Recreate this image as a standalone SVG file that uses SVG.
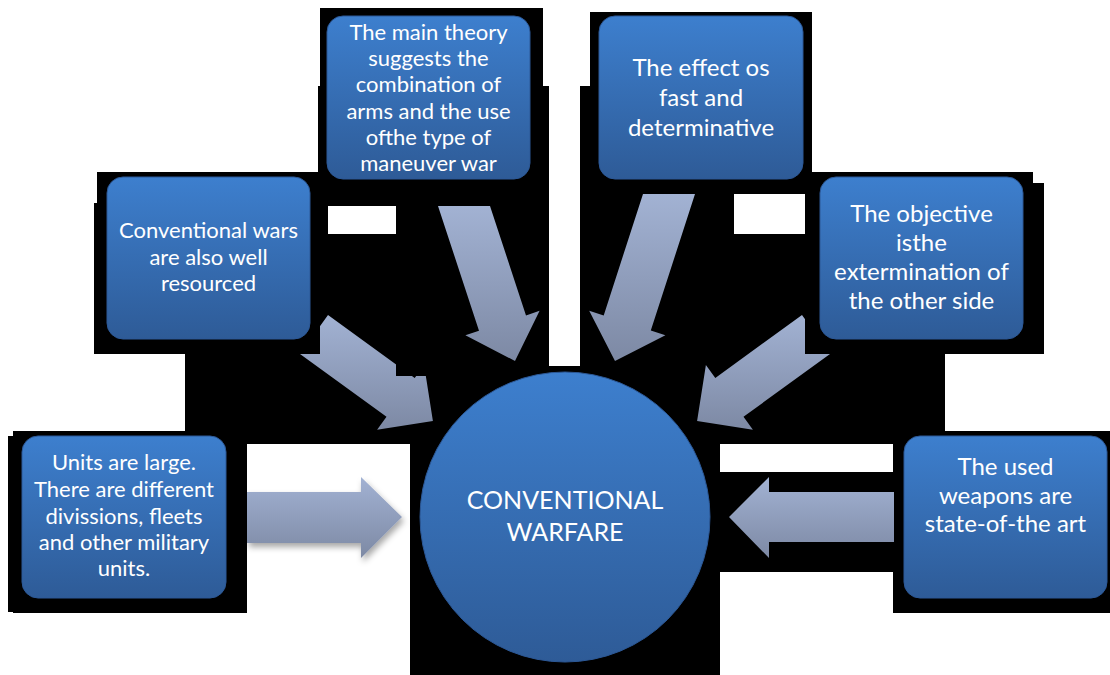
<svg xmlns="http://www.w3.org/2000/svg" width="1110" height="675" viewBox="0 0 1110 675">
<defs>
<linearGradient id="boxg" x1="0" y1="0" x2="0" y2="1">
<stop offset="0" stop-color="#3d7fce"/>
<stop offset="1" stop-color="#2e5b97"/>
</linearGradient>
<linearGradient id="arrg" x1="0" y1="0" x2="0" y2="1">
<stop offset="0" stop-color="#a2b2d3"/>
<stop offset="1" stop-color="#7d89a4"/>
</linearGradient>
<filter id="sh" x="-20%" y="-20%" width="150%" height="160%">
<feDropShadow dx="2" dy="4" stdDeviation="3" flood-color="#000" flood-opacity="0.35"/>
</filter>
<style>
.bg{fill:#000}
.box{fill:url(#boxg);stroke:#2c5896;stroke-width:1}
.arr{fill:url(#arrg)}
.t{font-family:Lato,"Open Sans","Liberation Sans",sans-serif;fill:#fff;text-anchor:middle}
</style>
</defs>
<rect width="1110" height="675" fill="#fff"/>
<g id="backdrop">
<rect class="bg" x="320" y="8" width="223" height="78"/>
<rect class="bg" x="590" y="12" width="222" height="74"/>
<rect class="bg" x="318" y="86" width="231" height="280"/>
<rect class="bg" x="580" y="86" width="232" height="108"/>
<rect class="bg" x="580" y="194" width="154" height="172"/>
<rect class="bg" x="734" y="234" width="71" height="120"/>
<rect class="bg" x="805" y="172" width="228" height="11"/>
<rect class="bg" x="805" y="183" width="239" height="171"/>
<rect class="bg" x="97" y="172" width="223" height="31"/>
<rect class="bg" x="94" y="203" width="226" height="151"/>
<rect class="bg" x="185" y="354" width="364" height="90"/>
<rect class="bg" x="580" y="354" width="365" height="90"/>
<rect class="bg" x="13" y="431" width="234" height="182"/>
<rect class="bg" x="8" y="436" width="6" height="176"/>
<rect class="bg" x="410" y="366" width="310" height="309"/>
<rect class="bg" x="893" y="431" width="217" height="182"/>
<rect class="bg" x="720" y="472" width="173" height="100"/>
<rect x="328" y="206" width="68" height="28" fill="#fff"/>
</g>
<g id="connectors">
<polygon class="arr" points="438,206 490,206 526,315.4 539.6,310.8 515,361 465.4,335.2 479,330.7"/>
<polygon class="arr" points="643,194 695,194 650.8,330.6 665.4,335.3 615,361 589.2,310.7 603.7,315.4"/>
<polygon class="arr" points="328,315 414.7,378 424.1,365 432.9,420.9 377.1,429.8 386.5,416.8 300,354"/>
<polygon class="arr" points="802,315 715.3,378 705.9,365 697.1,420.9 752.9,429.8 743.5,416.8 830,354"/>
<polygon class="arr" filter="url(#sh)" points="247,492 361,492 361,477 402,517 361,558 361,543 247,543"/>
<polygon class="arr" points="894,492 769,492 769,477 729,517 769,558 769,542 894,542"/>
<rect class="bg" x="94" y="300" width="226" height="54"/>
<rect class="bg" x="396" y="350" width="32" height="26"/>
<rect class="bg" x="805" y="300" width="239" height="54"/>
</g>
<g id="node-theory">
<rect class="box" x="327" y="16" width="203" height="163" rx="16"/>
<text class="t" font-size="22"><tspan x="428.5" y="39.5">The main theory</tspan><tspan x="428.5" y="65.8">suggests the</tspan><tspan x="428.5" y="92">combination of</tspan><tspan x="428.5" y="118.5">arms and the use</tspan><tspan x="428.5" y="144.5">ofthe type of</tspan><tspan x="428.5" y="170.5">maneuver war</tspan></text>
</g>
<g id="node-effect">
<rect class="box" x="599" y="16" width="204" height="163" rx="16"/>
<text class="t" font-size="24"><tspan x="701" y="76">The effect os</tspan><tspan x="701" y="106">fast and</tspan><tspan x="701" y="136">determinative</tspan></text>
</g>
<g id="node-resourced">
<rect class="box" x="107" y="177" width="203" height="162" rx="16"/>
<text class="t" font-size="22"><tspan x="208.5" y="238">Conventional wars</tspan><tspan x="208.5" y="264.5">are also well</tspan><tspan x="208.5" y="291">resourced</tspan></text>
</g>
<g id="node-objective">
<rect class="box" x="820" y="177" width="203" height="162" rx="16"/>
<text class="t" font-size="24"><tspan x="921.5" y="222">The objective</tspan><tspan x="921.5" y="251">isthe</tspan><tspan x="921.5" y="280">extermination of</tspan><tspan x="921.5" y="309">the other side</tspan></text>
</g>
<g id="node-units">
<rect class="box" x="22" y="436" width="204" height="162" rx="16"/>
<text class="t" font-size="22"><tspan x="124" y="470">Units are large.</tspan><tspan x="124" y="497">There are different</tspan><tspan x="124" y="524">divissions, fleets</tspan><tspan x="124" y="550">and other military</tspan><tspan x="124" y="576">units.</tspan></text>
</g>
<g id="node-weapons">
<rect class="box" x="904" y="436" width="203" height="162" rx="16"/>
<text class="t" font-size="24"><tspan x="1005.5" y="475">The used</tspan><tspan x="1005.5" y="504">weapons are</tspan><tspan x="1005.5" y="532">state-of-the art</tspan></text>
</g>
<g id="node-center">
<circle cx="565" cy="517" r="145" fill="url(#boxg)" stroke="#2c5896" stroke-width="1"/>
<text class="t" font-size="25"><tspan x="565" y="509">CONVENTIONAL</tspan><tspan x="565" y="541">WARFARE</tspan></text>
</g>
</svg>
